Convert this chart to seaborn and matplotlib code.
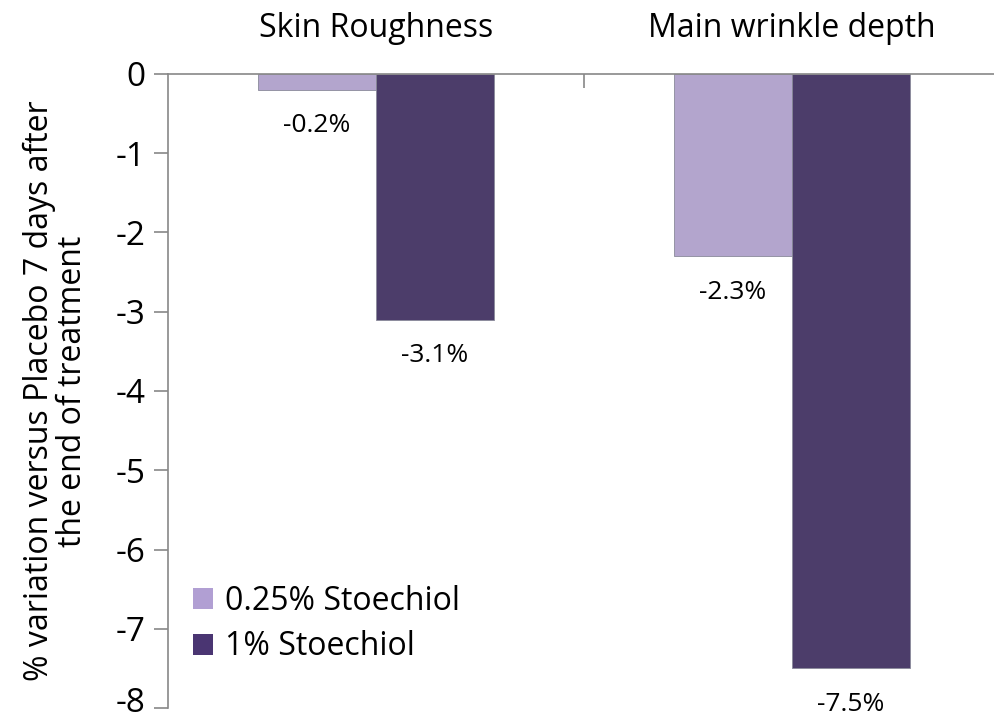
import matplotlib
matplotlib.use("Agg")
import matplotlib.pyplot as plt
import matplotlib.transforms as mtransforms
import seaborn as sns
import pandas as pd
from matplotlib.patches import Patch

categories = ["Skin Roughness", "Main wrinkle depth"]
series_names = ["0.25% Stoechiol", "1% Stoechiol"]
low_dose = [-0.2, -2.3]
high_dose = [-3.1, -7.5]
y_ticks = [0, -1, -2, -3, -4, -5, -6, -7, -8]
y_label = "% variation versus Placebo 7 days after\nthe end of treatment"
colors = ["#B19FD3", "#4A3572"]

sns.set_theme(style="white")
plt.rcParams["font.family"] = ["Open Sans", "DejaVu Sans"]
plt.rcParams["text.color"] = "black"
plt.rcParams["axes.labelcolor"] = "black"
plt.rcParams["xtick.color"] = "black"
plt.rcParams["ytick.color"] = "black"

df = pd.DataFrame({
    "category": categories * 2,
    "series": [series_names[0]] * 2 + [series_names[1]] * 2,
    "value": low_dose + high_dose,
})

fig = plt.figure(figsize=(9.94, 7.22), dpi=100)
ax = fig.add_axes([168 / 994, 1 - 708 / 722, 832 / 994, (708 - 74) / 722])

sns.barplot(data=df, x="category", y="value", hue="series", order=categories,
            hue_order=series_names, palette=colors, width=0.567, gap=0,
            edgecolor="#8a8a9a", linewidth=0.6, ax=ax, legend=False)

ax.set_xlim(-0.5, 1.5)
ax.set_ylim(-8, 0)
ax.set_yticks(y_ticks)
ax.set_yticklabels([str(t) for t in y_ticks])
ax.tick_params(axis="y", which="major", direction="out", length=10, width=1.2,
               color="#888888", labelcolor="black", labelsize=24, pad=6, left=True)
ax.xaxis.set_ticks_position("top")
ax.xaxis.set_label_position("top")
ax.tick_params(axis="x", which="major", length=0, labelsize=23, pad=21,
               labelcolor="black")
ax.set_xticks([0.5], minor=True)
ax.tick_params(axis="x", which="minor", direction="in", length=10, width=1.2,
               color="#888888", top=True, bottom=False)
ax.set_xlabel("")
ax.set_ylabel(y_label, fontsize=23, labelpad=19, linespacing=1.0, color="black")

# nudge the bottom tick label up slightly so it stays inside the figure
bottom_label = ax.get_yticklabels()[-1]
bottom_label.set_transform(bottom_label.get_transform() +
                           mtransforms.ScaledTranslation(0, 8 / 100, fig.dpi_scale_trans))

for side in ["right", "bottom"]:
    ax.spines[side].set_visible(False)
for side in ["left", "top"]:
    ax.spines[side].set_color("#888888")
    ax.spines[side].set_linewidth(1.2)

for container in ax.containers:
    ax.bar_label(container, labels=[f"{v:.1f}%" for v in container.datavalues],
                 padding=17, fontsize=19, color="black")

handles = [Patch(facecolor=c, edgecolor="none") for c in colors]
ax.legend(handles, series_names, loc="lower left", bbox_to_anchor=(-0.005, 0.025),
          frameon=False, fontsize=23, handlelength=0.65, handleheight=0.65,
          handletextpad=0.35, labelspacing=0.4, labelcolor="black")

fig.savefig("out.png", dpi=100)
